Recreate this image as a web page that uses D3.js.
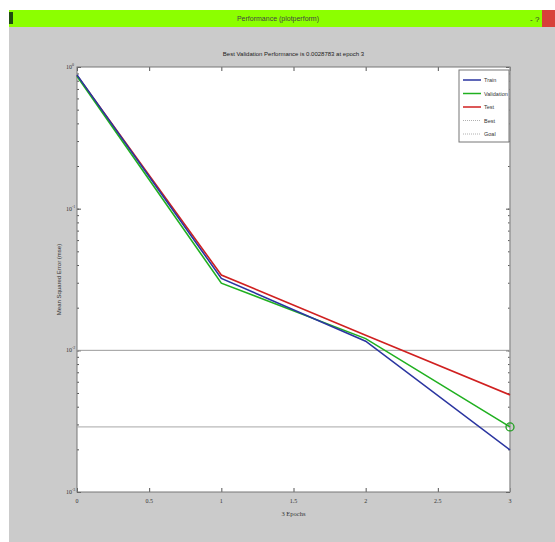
<!DOCTYPE html>
<html><head><meta charset="utf-8">
<script src="https://cdn.jsdelivr.net/npm/d3@7"></script>
<style>body{margin:0;background:#fff}svg{display:block}</style>
</head><body>
<svg id="c" width="555" height="542"></svg>
<script>
const epochs = [0, 1, 2, 3];
const trainPerf = [0.88, 0.0322, 0.0116, 0.00198];
const validationPerf = [0.86, 0.0298, 0.0121, 0.00288];
const testPerf = [0.87, 0.0340, 0.0128, 0.00484];
const xTicks = [0, 0.5, 1, 1.5, 2, 2.5, 3];
const xTickLabels = ["0", "0.5", "1", "1.5", "2", "2.5", "3"];
const yTicks = [1, 0.1, 0.01, 0.001];
const yTickExps = ["0", "-1", "-2", "-3"];
const goalValue = 0.01;
const bestEpoch = 3;
const bestValue = 0.00288;
const legendLabels = ["Train", "Validation", "Test", "Best", "Goal"];

const svg = d3.select("#c");
// window frame
svg.append("rect").attr("x", 9).attr("y", 27).attr("width", 546).attr("height", 515).attr("fill", "#cbcbcb");
svg.append("rect").attr("x", 9).attr("y", 10).attr("width", 546).attr("height", 17).attr("fill", "#8cff00");
svg.append("rect").attr("x", 9).attr("y", 12).attr("width", 4).attr("height", 12).attr("fill", "#1f4d10");
svg.append("rect").attr("x", 542).attr("y", 10).attr("width", 13).attr("height", 17).attr("fill", "#d8403a");
svg.append("text").attr("x", 530).attr("y", 22).attr("font-size", 8).attr("font-family", "Liberation Sans").attr("fill", "#333").text("- ?");
svg.append("text").attr("x", 278).attr("y", 21).attr("text-anchor", "middle").attr("font-size", 7)
  .attr("font-family", "Liberation Sans").attr("fill", "#444").text("Performance (plotperform)");

const L = 77, R = 510, T = 67, B = 492;
const x = d3.scaleLinear().domain([0, 3]).range([L, R]);
const y = d3.scaleLog().domain([0.001, 1]).range([B, T]);

svg.append("rect").attr("x", L).attr("y", T).attr("width", R - L).attr("height", B - T).attr("fill", "#fff");

// axes
const tickStyle = g => { g.select(".domain").remove(); g.selectAll("line").attr("stroke", "#555"); g.selectAll("text").remove(); };
svg.append("g").attr("transform", `translate(0,${B})`).call(d3.axisTop(x).tickValues(xTicks).tickSize(4)).call(tickStyle);
svg.append("g").attr("transform", `translate(0,${T})`).call(d3.axisBottom(x).tickValues(xTicks).tickSize(4)).call(tickStyle);
const minor = [];
for (let e = -3; e < 0; e++) for (let m = 1; m < 10; m++) minor.push(m * Math.pow(10, e));
minor.push(1);
svg.append("g").attr("transform", `translate(${L},0)`).call(d3.axisRight(y).tickValues(minor).tickSize(2)).call(tickStyle);
svg.append("g").attr("transform", `translate(${R},0)`).call(d3.axisLeft(y).tickValues(minor).tickSize(2)).call(tickStyle);
svg.append("g").attr("transform", `translate(${L},0)`).call(d3.axisRight(y).tickValues(yTicks).tickSize(4)).call(tickStyle);
svg.append("g").attr("transform", `translate(${R},0)`).call(d3.axisLeft(y).tickValues(yTicks).tickSize(4)).call(tickStyle);

// tick labels
svg.append("g").selectAll("text").data(xTicks).join("text")
  .attr("x", d => x(d)).attr("y", B + 11).attr("text-anchor", "middle")
  .attr("font-size", 6).attr("font-family", "Liberation Serif").attr("fill", "#333")
  .text((d, i) => xTickLabels[i]);
const yl = svg.append("g").selectAll("text").data(yTicks).join("text")
  .attr("x", L - 11).attr("y", d => y(d) + 2).attr("text-anchor", "start")
  .attr("font-size", 6).attr("font-family", "Liberation Serif").attr("fill", "#333");
yl.append("tspan").text("10");
yl.append("tspan").attr("dy", -3).attr("font-size", 4).text((d, i) => yTickExps[i]);

// frame
svg.append("rect").attr("x", L).attr("y", T).attr("width", R - L).attr("height", B - T)
  .attr("fill", "none").attr("stroke", "#777").attr("stroke-width", 1);

// goal and best lines
svg.append("line").attr("x1", L).attr("x2", R).attr("y1", y(goalValue)).attr("y2", y(goalValue))
  .attr("stroke", "#9a9a9a").attr("stroke-width", 1);
svg.append("line").attr("x1", L).attr("x2", R).attr("y1", y(bestValue)).attr("y2", y(bestValue))
  .attr("stroke", "#a8a8a8").attr("stroke-width", 1);
svg.append("line").attr("x1", x(bestEpoch)).attr("x2", x(bestEpoch)).attr("y1", T).attr("y2", B)
  .attr("stroke", "#a8a8a8").attr("stroke-width", 1);

const line = d3.line().x((d, i) => x(epochs[i])).y(d => y(d));
const series = [
  {v: testPerf, c: "#d02020"},
  {v: validationPerf, c: "#20b020"},
  {v: trainPerf, c: "#2a35a0"}
];
series.forEach(s => svg.append("path").attr("d", line(s.v)).attr("fill", "none")
  .attr("stroke", s.c).attr("stroke-width", 1.6));
svg.append("circle").attr("cx", x(bestEpoch)).attr("cy", y(bestValue)).attr("r", 4)
  .attr("fill", "none").attr("stroke", "#20a020").attr("stroke-width", 1.3);

// title and labels
svg.append("text").attr("x", (L + R) / 2).attr("y", 56).attr("text-anchor", "middle")
  .attr("font-size", 6).attr("font-family", "Liberation Sans").attr("fill", "#222")
  .text("Best Validation Performance is 0.0028783 at epoch 3");
svg.append("text").attr("x", (L + R) / 2).attr("y", 516).attr("text-anchor", "middle")
  .attr("font-size", 6.5).attr("font-family", "Liberation Serif").attr("fill", "#333").text("3 Epochs");
svg.append("text").attr("transform", `translate(61,${(T + B) / 2}) rotate(-90)`).attr("text-anchor", "middle")
  .attr("font-size", 6).attr("font-family", "Liberation Sans").attr("fill", "#333")
  .text("Mean Squared Error  (mse)");

// legend
const lg = svg.append("g").attr("transform", "translate(459,70)");
lg.append("rect").attr("width", 50).attr("height", 72).attr("fill", "#fff").attr("stroke", "#777");
const legColors = ["#2a35a0", "#20b020", "#d02020", "#b0b0b0", "#b0b0b0"];
const legDash = [null, null, null, "1,1", "1,1"];
legendLabels.forEach((lab, i) => {
  const yy = 10 + i * 13.5;
  lg.append("line").attr("x1", 4).attr("x2", 22).attr("y1", yy).attr("y2", yy)
    .attr("stroke", legColors[i]).attr("stroke-width", i < 3 ? 1.5 : 1).attr("stroke-dasharray", legDash[i]);
  lg.append("text").attr("x", 25).attr("y", yy + 2).attr("font-size", 5.5).attr("font-family", "Liberation Sans")
    .attr("fill", "#333").text(lab);
});
</script>
</body></html>
